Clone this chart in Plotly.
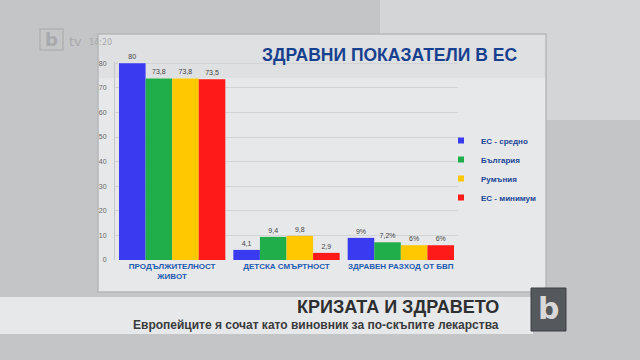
import plotly.graph_objects as go

categories = ["ПРОДЪЛЖИТЕЛНОСТ<br>ЖИВОТ", "ДЕТСКА СМЪРТНОСТ", "ЗДРАВЕН РАЗХОД ОТ БВП"]
series_names = ["ЕС - средно", "България", "Румъния", "ЕС - минимум"]
eu_avg = [80, 4.1, 9]
bulgaria = [73.8, 9.4, 7.2]
romania = [73.8, 9.8, 6]
eu_min = [73.5, 2.9, 6]
eu_avg_lbl = ["80", "4,1", "9%"]
bulgaria_lbl = ["73,8", "9,4", "7,2%"]
romania_lbl = ["73,8", "9,8", "6%"]
eu_min_lbl = ["73,5", "2,9", "6%"]
y_ticks = [0, 10, 20, 30, 40, 50, 60, 70, 80]

colors = ["#3a3af0", "#1fae4a", "#ffc800", "#ff1a1a"]
values = [eu_avg, bulgaria, romania, eu_min]
labels = [eu_avg_lbl, bulgaria_lbl, romania_lbl, eu_min_lbl]
FONT = "Liberation Sans, Arial"

fig = go.Figure()
for name, vals, lbl, c in zip(series_names, values, labels, colors):
    fig.add_trace(go.Bar(
        x=categories, y=vals, name=name, text=lbl, textposition="outside",
        textfont=dict(size=7, color="#444", family=FONT),
        marker=dict(color=c, line=dict(width=0)), cliponaxis=False, showlegend=False,
    ))
# legend entries with small square swatches
for name, c in zip(series_names, colors):
    fig.add_trace(go.Scatter(
        x=[None], y=[None], mode="markers", name=name,
        marker=dict(symbol="square", size=6, color=c), showlegend=True,
    ))

W, H = 640, 360
L, R, T, B = 115, 458, 62, 260

def px(x0, y0, x1, y1, fill, line=None, layer="below"):
    return dict(type="rect", xref="paper", yref="paper",
                x0=(x0 - L) / (R - L), x1=(x1 - L) / (R - L),
                y0=(B - y1) / (B - T), y1=(B - y0) / (B - T),
                fillcolor=fill, line=line or dict(width=0), layer=layer)

shapes = [
    px(-200, -100, 900, 500, "#c4c5c7"),
    px(380, -100, 900, 120, "#d4d5d7"),
    px(98, 34, 546, 292, "#e7e8e9", dict(color="#b5b6b8", width=1.5)),
    px(99, 35, 545, 78, "#dfe0e2"),
    px(0, 297, 533, 334, "rgba(236,237,239,0.88)"),
    px(531, 288, 566, 331, "#55585c", dict(color="#3c3e42", width=1), layer="above"),
    px(40, 29, 63, 50, "rgba(0,0,0,0)", dict(color="#b0b1b3", width=1.5)),
]

annotations = [
    dict(text="ЗДРАВНИ ПОКАЗАТЕЛИ В ЕС", x=389, y=55,
         font=dict(size=17.5, color="#17408f", family=FONT, weight="bold")),
    dict(text="КРИЗАТА И ЗДРАВЕТО", x=501, y=307, xanchor="right",
         font=dict(size=18, color="#2e2f31", family=FONT, weight="bold")),
    dict(text="Европейците я сочат като виновник за по-скъпите лекарства", x=501, y=325, xanchor="right",
         font=dict(size=12, color="#3a3b3d", family=FONT, weight="bold")),
    dict(text="b", x=548, y=308, font=dict(size=30, color="#d8d8d8", family="DejaVu Sans", weight="bold")),
    dict(text="b", x=51, y=39, font=dict(size=18, color="#a8a9ab", family="DejaVu Sans", weight="bold")),
    dict(text="tv", x=75, y=41, font=dict(size=13, color="#a8a9ab", family="DejaVu Sans")),
    dict(text="14:20", x=100, y=43, font=dict(size=8, color="#a8a9ab", family="DejaVu Sans")),
]
for a in annotations:
    a.update(xref="paper", yref="paper", showarrow=False)
    a["x"] = (a["x"] - L) / (R - L)
    a["y"] = (B - a["y"]) / (B - T)
    a.setdefault("xanchor", "center")
    a["yanchor"] = "middle"

fig.update_layout(
    width=W, height=H,
    margin=dict(l=L, r=W - R, t=T, b=H - B),
    paper_bgcolor="#c4c5c7", plot_bgcolor="rgba(0,0,0,0)",
    barmode="group", bargap=0.07, bargroupgap=0,
    showlegend=True,
    legend=dict(x=(441 - L) / (R - L), y=(B - 126) / (B - T), xanchor="left", yanchor="top",
                bgcolor="rgba(0,0,0,0)",
                font=dict(size=8, color="#1b4596", family=FONT, weight="bold"),
                itemwidth=30, tracegroupgap=0),
    shapes=shapes, annotations=annotations,
    xaxis=dict(tickfont=dict(size=8, color="#1d5ab0", family=FONT, weight="bold"),
               showline=False, ticks="", automargin=False),
    yaxis=dict(range=[0, 80.5], tickvals=y_ticks, tickfont=dict(size=7, color="#666", family=FONT),
               gridcolor="#d2d3d5", gridwidth=1, zeroline=False, showline=True,
               linecolor="#c8c9cb", ticks="", ticklabelstandoff=6, automargin=False),
)
fig.update_xaxes(ticktext=categories, tickvals=categories)
fig.write_html("out.html", config={"displayModeBar": False},
               post_script="document.body.style.margin='0';document.body.style.overflow='hidden';")
